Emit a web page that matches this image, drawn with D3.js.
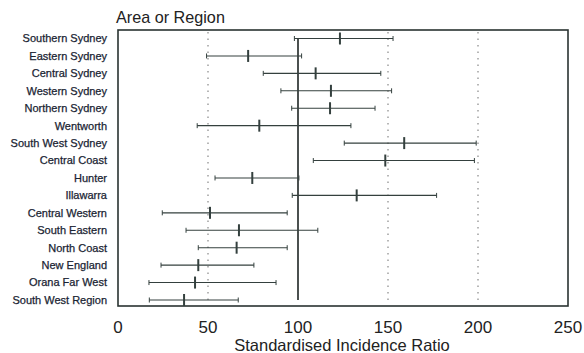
<!DOCTYPE html>
<html><head><meta charset="utf-8">
<script src="https://cdn.jsdelivr.net/npm/d3@7"></script>
<style>body{margin:0;background:#fff;}svg{display:block;font-family:"Liberation Sans",Arial,Helvetica,sans-serif;}</style>
</head><body><svg id="c" width="584" height="353"></svg>
<script>
const categories = ["Southern Sydney","Eastern Sydney","Central Sydney","Western Sydney","Northern Sydney","Wentworth","South West Sydney","Central Coast","Hunter","Illawarra","Central Western","South Eastern","North Coast","New England","Orana Far West","South West Region"];
const sir   = [123.3, 72.3, 109.8, 118.3, 117.8, 78.5, 159, 148.5, 74.6, 132.6, 51.1, 67.2, 65.9, 44.6, 42.8, 36.7];
const lower = [98, 49.2, 80.7, 90.5, 96.5, 44, 125.7, 108.5, 53.9, 96.8, 24.6, 37.8, 44.6, 23.9, 17.2, 17.4];
const upper = [152.8, 102, 146, 152, 142.8, 129.4, 199, 198, 100.5, 177, 94, 111, 94, 75.5, 87.8, 66.8];
const xTicks = [0, 50, 100, 150, 200, 250];
const gridLines = [50, 150, 200];
const refLine = 100;

(function () {
const svg = d3.select("#c");
const mL = 118, mR = 568, mT = 30, mB = 306;
const x = d3.scaleLinear().domain([0, 250]).range([mL, mR]);
const y = d3.scalePoint().domain(categories).range([38.5, 300]);
const line = "#34403e";

svg.selectAll("line.grid").data(gridLines).join("line").attr("class", "grid")
  .attr("x1", d => x(d)).attr("x2", d => x(d))
  .attr("y1", mT + 2).attr("y2", 301)
  .attr("stroke", "#888").attr("stroke-width", 1.2)
  .attr("stroke-dasharray", "1.5,5");

svg.append("rect").attr("x", mL).attr("y", mT).attr("width", mR - mL).attr("height", mB - mT)
  .attr("fill", "none").attr("stroke", "#2a3331").attr("stroke-width", 1.6);

svg.append("line").attr("x1", x(refLine)).attr("x2", x(refLine))
  .attr("y1", y(categories[0])).attr("y2", y(categories[categories.length - 1]))
  .attr("stroke", "#1e2524").attr("stroke-width", 1.6);

const rows = categories.map((c, i) => ({c, v: sir[i], lo: lower[i], hi: upper[i]}));
const g = svg.selectAll("g.row").data(rows).join("g").attr("class", "row");
g.append("line").attr("x1", d => x(d.lo)).attr("x2", d => x(d.hi))
  .attr("y1", d => y(d.c)).attr("y2", d => y(d.c)).attr("stroke", line).attr("stroke-width", 1.1);
g.append("line").attr("x1", d => x(d.lo)).attr("x2", d => x(d.lo))
  .attr("y1", d => y(d.c) - 2.5).attr("y2", d => y(d.c) + 2.5).attr("stroke", line).attr("stroke-width", 1);
g.append("line").attr("x1", d => x(d.hi)).attr("x2", d => x(d.hi))
  .attr("y1", d => y(d.c) - 2.5).attr("y2", d => y(d.c) + 2.5).attr("stroke", line).attr("stroke-width", 1);
g.append("line").attr("x1", d => x(d.v)).attr("x2", d => x(d.v))
  .attr("y1", d => y(d.c) - 6).attr("y2", d => y(d.c) + 6).attr("stroke", line).attr("stroke-width", 2);

svg.selectAll("text.cat").data(categories).join("text").attr("class", "cat")
  .attr("x", 107).attr("y", d => y(d)).attr("dy", "0.35em")
  .attr("text-anchor", "end").attr("font-size", 11).attr("fill", "#1a2433")
  .attr("stroke", "#1a2433").attr("stroke-width", 0.25).text(d => d);

svg.selectAll("text.tick").data(xTicks).join("text").attr("class", "tick")
  .attr("x", d => x(d)).attr("y", 333).attr("text-anchor", "middle")
  .attr("font-size", 17).attr("fill", "#222").text(d => d);

svg.append("text").attr("x", 342).attr("y", 351).attr("text-anchor", "middle")
  .attr("font-size", 16.5).attr("fill", "#222").text("Standardised Incidence Ratio");
svg.append("text").attr("x", 116).attr("y", 23).attr("font-size", 16.2).attr("fill", "#222").text("Area or Region");
})();
</script></body></html>
